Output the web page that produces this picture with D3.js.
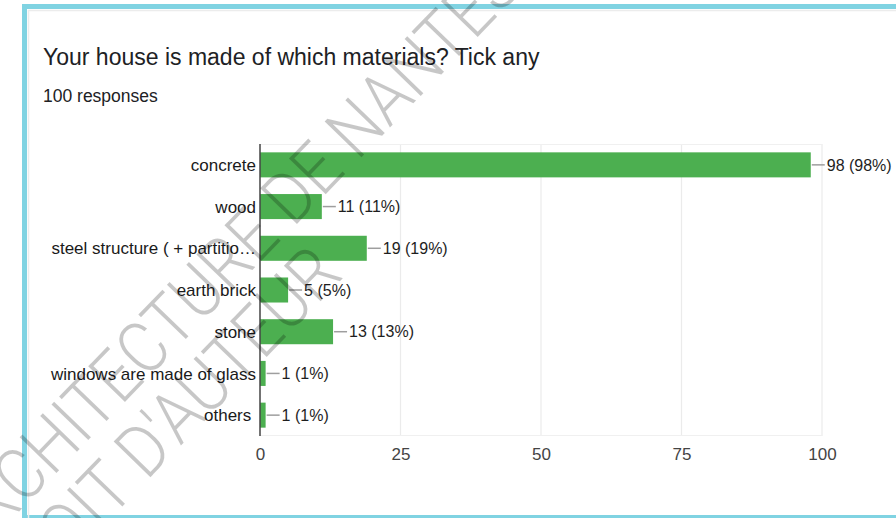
<!DOCTYPE html>
<html lang="en">

<head>
    <meta charset="UTF-8">
    <title>Your house is made of which materials? Tick any</title>
    <script src="https://d3js.org/d3.v7.min.js"></script>
    <style>
        body {
            margin: 0;
            background: #fff;
        }

        svg {
            display: block;
            font-family: Arial, "Liberation Sans", sans-serif;
        }

        .cat-label,
        .tick text {
            font-family: Arial, "Liberation Sans", sans-serif;
            font-size: 17px;
        }

        .value-label {
            font-size: 16px;
        }

        .cat-label {
            white-space: pre;
        }
    </style>
</head>

<body>

    <svg width="896" height="518"></svg>

    <script>
        // data
        const categories = [
            "concrete",
            "wood",
            "steel structure ( + partitio\u2026",
            "earth brick",
            "stone",
            "windows are made of glass",
            "others "
        ];
        const counts = [98, 11, 19, 5, 13, 1, 1];
        const totalResponses = 100;
        const xTicks = [0, 25, 50, 75, 100];

        const title = "Your house is made of which materials? Tick any";
        const subtitle = totalResponses + " responses";
        const watermarkLines = ["ARCHITECTURE DE NANTES", "DROIT D'AUTEUR"];

        const data = categories.map((c, i) => ({ name: c, value: counts[i] }));

        const svg = d3.select("svg");

        // card border
        svg.append("rect")
            .attr("x", 24.5).attr("y", 6.5)
            .attr("width", 900).attr("height", 511)
            .attr("fill", "#fff")
            .attr("stroke", "#80d3e2")
            .attr("stroke-width", 5);
        svg.append("path")
            .attr("d", "M28,10.5H896M28.5,10V518")
            .attr("stroke", "#ececec")
            .attr("stroke-width", 1.5)
            .attr("fill", "none");

        // title + count
        svg.append("text")
            .attr("x", 43).attr("y", 65)
            .attr("font-size", 23)
            .attr("fill", "#202124")
            .text(title);

        svg.append("text")
            .attr("x", 43).attr("y", 102)
            .attr("font-size", 17.5)
            .attr("fill", "#202124")
            .text(subtitle);

        // scales
        const x = d3.scaleLinear().domain([0, 100]).range([260, 822]);
        const y = d3.scaleBand()
            .domain(categories)
            .range([144, 436])
            .paddingInner(0.4)
            .paddingOuter(0.2);

        // gridlines
        svg.append("g")
            .selectAll("line")
            .data(xTicks.slice(1))
            .join("line")
            .attr("x1", d => x(d)).attr("x2", d => x(d))
            .attr("y1", 144).attr("y2", 436)
            .attr("stroke", "#ebebeb")
            .attr("stroke-width", 1.2);
        svg.append("path")
            .attr("d", `M${x(0)},144.5H${x(100)}M${x(0)},435.5H${x(100)}`)
            .attr("stroke", "#f0f0f0")
            .attr("fill", "none");

        // x axis labels
        const xAxis = svg.append("g")
            .attr("transform", "translate(0,436)")
            .call(d3.axisBottom(x).tickValues(xTicks).tickSize(0).tickPadding(12));
        xAxis.select(".domain").remove();
        xAxis.selectAll(".tick text").attr("fill", "#444");

        // bars
        svg.append("g")
            .selectAll("rect")
            .data(data)
            .join("rect")
            .attr("x", x(0))
            .attr("y", d => y(d.name))
            .attr("width", d => x(d.value) - x(0))
            .attr("height", y.bandwidth())
            .attr("fill", "#4caf50");

        // connector + value label
        svg.append("g")
            .selectAll("line")
            .data(data)
            .join("line")
            .attr("x1", d => x(d.value) + 1)
            .attr("x2", d => x(d.value) + 14)
            .attr("y1", d => y(d.name) + y.bandwidth() / 2)
            .attr("y2", d => y(d.name) + y.bandwidth() / 2)
            .attr("stroke", "#9e9e9e")
            .attr("stroke-width", 1.5);

        svg.append("g")
            .selectAll("text")
            .data(data)
            .join("text")
            .attr("class", "value-label")
            .attr("x", d => x(d.value) + 16)
            .attr("y", d => y(d.name) + y.bandwidth() / 2)
            .attr("dy", "0.36em")
            .attr("fill", "#1e1e1e")
            .text(d => `${d.value} (${Math.round(d.value / totalResponses * 100)}%)`);

        // category axis
        svg.append("g")
            .selectAll("text")
            .data(data)
            .join("text")
            .attr("class", "cat-label")
            .attr("x", x(0) - 4)
            .attr("y", d => y(d.name) + y.bandwidth() / 2)
            .attr("dy", "0.36em")
            .attr("text-anchor", "end")
            .attr("fill", "#1a1a1a")
            .text(d => d.name);

        svg.append("line")
            .attr("x1", x(0)).attr("x2", x(0))
            .attr("y1", 144).attr("y2", 436)
            .attr("stroke", "#444")
            .attr("stroke-width", 1.5);

        // watermark (tall, thin letters)
        const wm = svg.append("g")
            .attr("font-family", "Roboto, 'Liberation Sans', sans-serif")
            .attr("font-weight", 300)
            .attr("font-size", 72)
            .attr("fill", "rgba(0,0,0,0.22)")
            .attr("text-anchor", "middle");
        wm.append("text")
            .attr("transform", "translate(228,258) rotate(-46) scale(0.88,1)")
            .attr("dy", "0.36em")
            .text(watermarkLines[0]);
        wm.append("text")
            .attr("transform", "translate(160,430) rotate(-46) scale(0.88,1)")
            .attr("dy", "0.36em")
            .text(watermarkLines[1]);
    </script>

</body>

</html>
